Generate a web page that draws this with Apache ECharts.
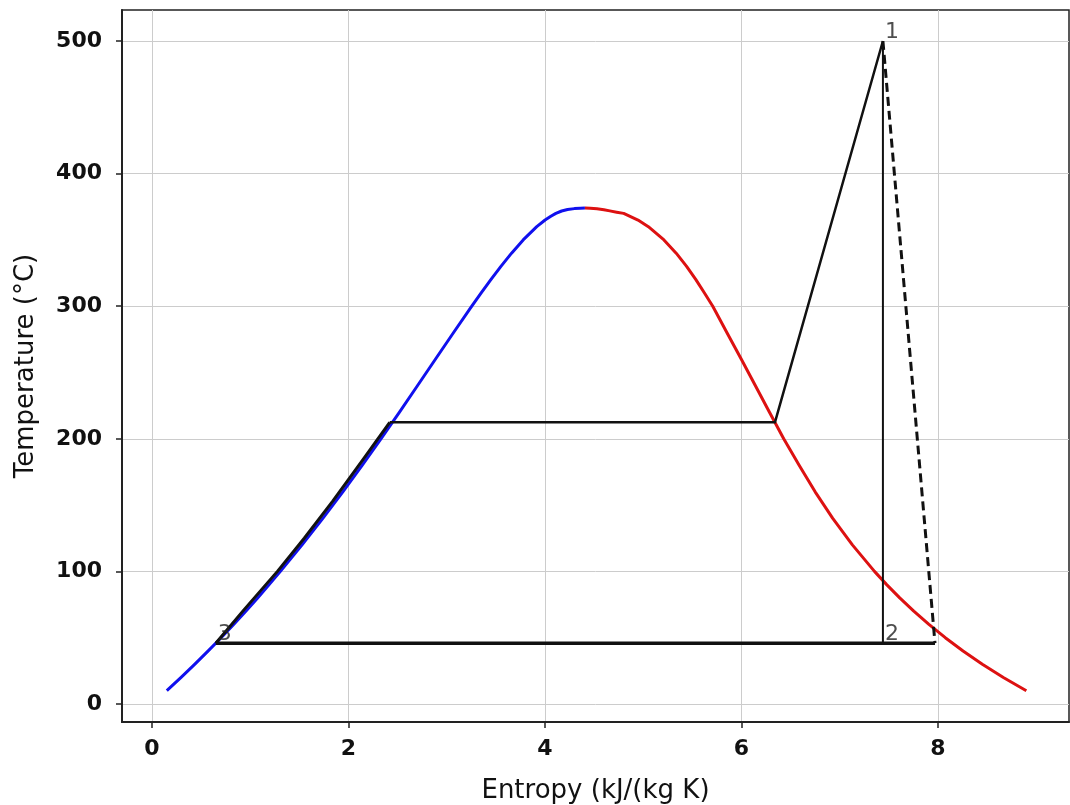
<!DOCTYPE html>
<html>
<head>
<meta charset="utf-8">
<script src="https://cdn.jsdelivr.net/npm/echarts@6/dist/echarts.min.js"></script>
<style>
html,body{margin:0;padding:0;background:#fff;}
#chart{width:1070px;height:805px;}
</style>
</head>
<body>
<div id="chart"></div>
<script>
// Saturated liquid line (entropy kJ/(kg K), temperature °C)
const sLiquid = [0.1511,0.2965,0.4368,0.5724,0.7038,0.8313,0.9551,1.0756,1.1929,1.3072,1.5279,1.7392,1.9426,2.1392,2.3305,2.5177,2.7020,2.8849,3.0685,3.2552,3.3510,3.4494,3.5518,3.6601,3.7784,3.9167,4.0014,4.0600,4.1112,4.1700,4.2300,4.3000,4.3600,4.4070];
const TLiquid = [10,20,30,40,50,60,70,80,90,100,120,140,160,180,200,220,240,260,280,300,310,320,330,340,350,360,365,367.8,370,371.8,372.9,373.6,373.9,374];
// Saturated vapour line
const sVapour = [4.4070,4.4600,4.5300,4.6000,4.6600,4.7300,4.8012,4.9471,5.0526,5.2112,5.3357,5.4417,5.5362,5.6236,5.7081,5.8527,5.9989,6.1423,6.2854,6.4302,6.5872,6.7502,6.9294,7.1292,7.3541,7.4781,7.6111,7.7540,7.9082,8.0749,8.2557,8.4520,8.6661,8.8999];
const TVapour = [374,373.9,373.5,372.8,371.9,370.9,370,365,360,350,340,330,320,310,300,280,260,240,220,200,180,160,140,120,100,90,80,70,60,50,40,30,20,10];
// Cycle: pump + feed heating
const sHeating = [0.6493,0.9250,1.2770,1.5500,1.8400,2.1550,2.4200];
const THeating = [45.81,70,100,125,153,185,212.42];
// Evaporation + superheating
const sBoiler = [2.4200,6.3409,7.4400];
const TBoiler = [212.42,212.42,500];
// Isentropic expansion
const sIsentropic = [7.4400,7.4400];
const TIsentropic = [500,45.81];
// Actual expansion (dashed)
const sActual = [7.4400,7.9700];
const TActual = [500,45.81];
// Condensation
const sCondense = [0.6493,7.9700];
const TCondense = [45.81,45.81];
// State labels
const stateNames = ['1','2','3'];
const sStates = [7.4400,7.4400,0.6493];
const TStates = [500,45.81,45.81];
// Axis ticks
const xTicks = [0,2,4,6,8];
const yTicks = [0,100,200,300,400,500];

const pairs = (xs, ys) => xs.map((x, i) => [x, ys[i]]);

const chart = echarts.init(document.getElementById('chart'));
const font = 'DejaVu Sans';
const lineSeries = (data, color, width, type) => ({
  type: 'line', data, symbol: 'none', smooth: false, silent: true,
  lineStyle: {color, width, type: type || 'solid', cap: 'butt', join: 'round'},
  animation: false, z: 3
});

chart.setOption({
  animation: false,
  backgroundColor: '#ffffff',
  grid: {left: 122, right: 1, top: 10, bottom: 83, show: true, borderColor: '#222', borderWidth: 1.5,
    containLabel: false, outerBoundsMode: 'none'},
  xAxis: {
    type: 'value', min: -0.305, max: 9.334,
    name: 'Entropy (kJ/(kg K)', nameLocation: 'middle', nameGap: 56,
    nameTextStyle: {fontFamily: font, fontSize: 26, color: '#111'},
    axisLine: {show: true, onZero: false, lineStyle: {color: '#222', width: 2}},
    axisTick: {show: true, length: 6, customValues: xTicks, lineStyle: {color: '#222', width: 1.5}},
    axisLabel: {customValues: xTicks, margin: 16, fontFamily: font, fontSize: 22, fontWeight: 'bold', color: '#111'},
    splitLine: {show: true, lineStyle: {color: '#cccccc', width: 1}}
  },
  yAxis: {
    type: 'value', min: -13.6, max: 523.4,
    name: 'Temperature (°C)', nameLocation: 'middle', nameGap: 83,
    nameTextStyle: {fontFamily: font, fontSize: 26, color: '#111'},
    axisLine: {show: true, onZero: false, lineStyle: {color: '#222', width: 2}},
    axisTick: {show: true, length: 6, customValues: yTicks, lineStyle: {color: '#222', width: 1.5}},
    axisLabel: {customValues: yTicks, margin: 20, fontFamily: font, fontSize: 22, fontWeight: 'bold', color: '#111'},
    splitLine: {show: true, lineStyle: {color: '#cccccc', width: 1}}
  },
  series: [
    lineSeries(pairs(sLiquid, TLiquid), '#1010ee', 3),
    lineSeries(pairs(sVapour, TVapour), '#dd1111', 3),
    lineSeries(pairs(sHeating, THeating), '#111', 3),
    lineSeries(pairs(sBoiler, TBoiler), '#111', 2.5),
    lineSeries(pairs(sIsentropic, TIsentropic), '#111', 2),
    lineSeries(pairs(sActual, TActual), '#111', 3, [9, 5]),
    lineSeries(pairs(sCondense, TCondense), '#111', 3.5),
    {
      type: 'scatter', symbolSize: 0, silent: true, z: 5,
      data: stateNames.map((n, i) => ({name: n, value: [sStates[i], TStates[i]]})),
      label: {show: true, formatter: p => p.name, position: [2, 2], align: 'left', verticalAlign: 'bottom',
        fontFamily: font, fontSize: 22, color: '#222'}
    }
  ]
});
</script>
</body>
</html>
